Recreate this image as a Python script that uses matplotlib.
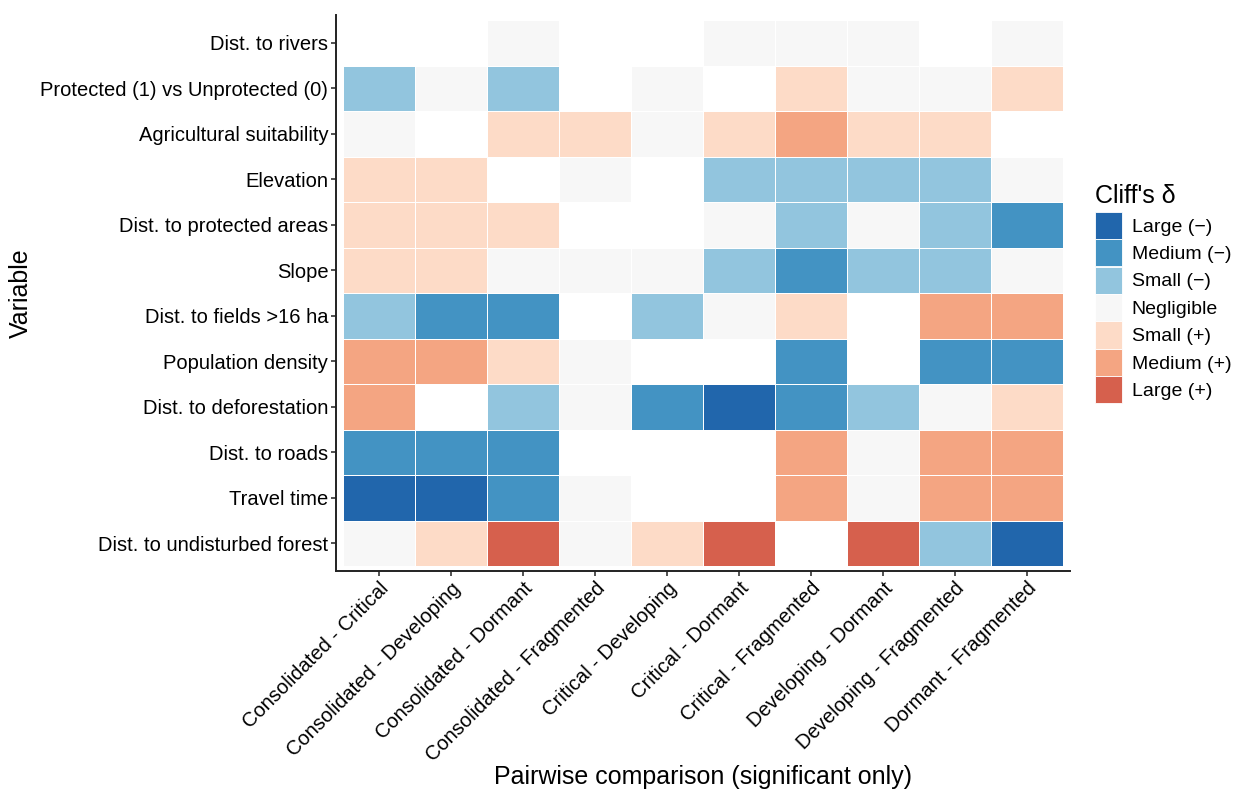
import matplotlib
matplotlib.use("Agg")
import matplotlib.pyplot as plt
import numpy as np
from matplotlib.colors import ListedColormap, BoundaryNorm
from matplotlib.patches import Patch

plt.rcParams['font.family'] = ['Liberation Sans', 'DejaVu Sans']

# Data (rows listed top to bottom as in the chart)
variables = [
    "Dist. to rivers",
    "Protected (1) vs Unprotected (0)",
    "Agricultural suitability",
    "Elevation",
    "Dist. to protected areas",
    "Slope",
    "Dist. to fields >16 ha",
    "Population density",
    "Dist. to deforestation",
    "Dist. to roads",
    "Travel time",
    "Dist. to undisturbed forest",
]
comparisons = [
    "Consolidated - Critical",
    "Consolidated - Developing",
    "Consolidated - Dormant",
    "Consolidated - Fragmented",
    "Critical - Developing",
    "Critical - Dormant",
    "Critical - Fragmented",
    "Developing - Dormant",
    "Developing - Fragmented",
    "Dormant - Fragmented",
]
levels = ["L-", "M-", "S-", "N", "S+", "M+", "L+"]
level_labels = ["Large (\u2212)", "Medium (\u2212)", "Small (\u2212)", "Negligible",
                "Small (+)", "Medium (+)", "Large (+)"]
level_colors = ["#2166ac", "#4393c3", "#92c5de", "#f7f7f7", "#fddbc7", "#f4a582", "#d6604d"]

# effect size class per cell, "" = not significant
effects = [
    ["", "", "N", "", "", "N", "N", "N", "", "N"],
    ["S-", "N", "S-", "", "N", "", "S+", "N", "N", "S+"],
    ["N", "", "S+", "S+", "N", "S+", "M+", "S+", "S+", ""],
    ["S+", "S+", "", "N", "", "S-", "S-", "S-", "S-", "N"],
    ["S+", "S+", "S+", "", "", "N", "S-", "N", "S-", "M-"],
    ["S+", "S+", "N", "N", "N", "S-", "M-", "S-", "S-", "N"],
    ["S-", "M-", "M-", "", "S-", "N", "S+", "", "M+", "M+"],
    ["M+", "M+", "S+", "N", "", "", "M-", "", "M-", "M-"],
    ["M+", "", "S-", "N", "M-", "L-", "M-", "S-", "N", "S+"],
    ["M-", "M-", "M-", "", "", "", "M+", "N", "M+", "M+"],
    ["L-", "L-", "M-", "N", "", "", "M+", "N", "M+", "M+"],
    ["N", "S+", "L+", "N", "S+", "L+", "", "L+", "S-", "L-"],
]

# Build coded grid (bottom row first)
grid = np.full((len(variables), len(comparisons)), np.nan)
for i, row in enumerate(effects[::-1]):
    for j, v in enumerate(row):
        if v:
            grid[i, j] = levels.index(v)
grid = np.ma.masked_invalid(grid)

cmap = ListedColormap(level_colors)
norm = BoundaryNorm(np.arange(-0.5, 7.5, 1), cmap.N)

fig = plt.figure(figsize=(12.36, 7.92), dpi=100)
ax = fig.add_axes([0.2718, 0.279, 0.5939, 0.702])

xe = np.arange(len(comparisons) + 1) - 0.5
ye = np.arange(len(variables) + 1) - 0.5
ax.pcolormesh(xe, ye, grid, cmap=cmap, norm=norm, edgecolors="white", linewidth=0.6)

ax.set_xlim(-0.6, len(comparisons) - 0.4)
ax.set_ylim(-0.61, len(variables) - 0.39)

ax.set_xticks(np.arange(len(comparisons)))
ax.set_xticklabels(comparisons, rotation=45, ha="right", rotation_mode="anchor", fontsize=14.5)
ax.set_yticks(np.arange(len(variables)))
ax.set_yticklabels(variables[::-1], fontsize=14.5)
ax.tick_params(length=3.5, width=1.2, color="#333333", pad=2)

for s in ["top", "right"]:
    ax.spines[s].set_visible(False)
for s in ["left", "bottom"]:
    ax.spines[s].set_linewidth(1.4)
    ax.spines[s].set_color("#222222")

ax.set_xlabel("Pairwise comparison (significant only)", fontsize=18)
ax.xaxis.set_label_coords(0.5, -0.349)
ax.set_ylabel("Variable", fontsize=18)
ax.yaxis.set_label_coords(-0.413, 0.5)

handles = [Patch(facecolor=c, edgecolor="white", linewidth=0.6, label=l)
           for c, l in zip(level_colors, level_labels)]
leg = fig.legend(handles=handles, title="Cliff's \u03b4", loc="upper left",
                 bbox_to_anchor=(0.886, 0.768), frameon=False, fontsize=14,
                 title_fontsize=18, handlelength=1.39, handleheight=1.76,
                 labelspacing=0.02, handletextpad=0.5, borderpad=0, borderaxespad=0)
leg._legend_box.align = "left"
leg._legend_box.sep = 3

fig.savefig("out.png", dpi=100)
